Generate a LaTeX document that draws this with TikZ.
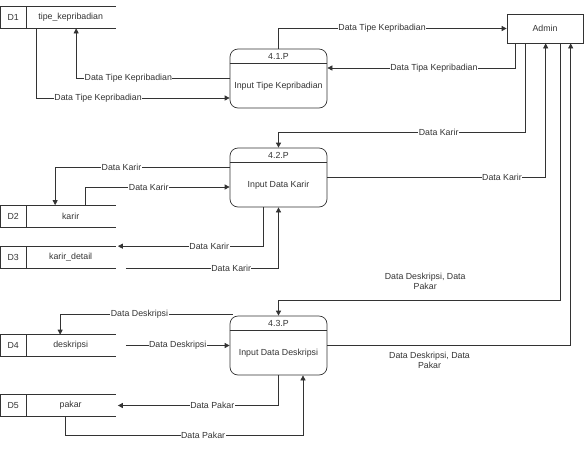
\documentclass[tikz,border=0pt]{standalone}
\usepackage{fontspec}
\setmainfont{Liberation Sans}
\usetikzlibrary{arrows.meta,calc}

\begin{document}
\begin{tikzpicture}[x=1pt,y=-1pt,line width=0.7pt,color=black!80,
        font=\fontsize{8.8}{10.5}\selectfont,
        flow/.style={-{Triangle[length=5pt,width=5pt]}},
        proc/.style={draw, rounded corners=8pt, minimum width=97pt, minimum height=59pt},
        store/.style={minimum width=115pt, minimum height=21pt, inner sep=0pt},
        ext/.style={draw, minimum width=76pt, minimum height=29pt},
        lbl/.style={fill=white, inner sep=0.5pt},
        lbl2/.style={align=center, inner sep=0pt}]

    \useasboundingbox (0,0) rectangle (584,448);

    % external entity
    \node[ext] (admin) at (545,28.5) {Admin};

    % processes
    \node[proc] (p41) at (278.5,78.5) {};
    \node[proc] (p42) at (278.5,177.5) {};
    \node[proc] (p43) at (278.5,345.5) {};
    \foreach \p/\n/\t in {p41/4.1.P/Input Tipe Kepribadian,
                          p42/4.2.P/Input Data Karir,
                          p43/4.3.P/Input Data Deskripsi} {
        \node (\p t) at ($(\p.north)+(0,7.5)$) {\n};
        \node (\p b) at ($(\p.center)+(0,7.5)$) {\t};
        \draw ($(\p.north west)+(0,15)$) -- ($(\p.north east)+(0,15)$);
    }

    % data stores
    \node[store] (d1) at (58,17.5) {};
    \node[store] (d2) at (58,216) {};
    \node[store] (d3) at (58,257) {};
    \node[store] (d4) at (58,345.5) {};
    \node[store] (d5) at (58,405.5) {};
    \foreach \s/\i/\n in {d1/D1/tipe\_kepribadian, d2/D2/karir, d3/D3/karir\_detail,
                          d4/D4/deskripsi, d5/D5/pakar} {
        \draw (\s.north east) -- (\s.north west) -- (\s.south west) -- (\s.south east)
              ($(\s.north west)+(26,0)$) -- ($(\s.south west)+(26,0)$);
        \node (\s i) at ($(\s.west)+(13,0)$) {\i};
        \node (\s n) at ($(\s.west)+(70.5,0)$) {\n};
    }

    % 4.1.P
    \draw[flow] (p41.north) |- node[lbl,pos=0.727] {Data Tipe Kepribadian} (admin.west);
    \draw[flow] ($(admin.south west)+(9,0)$) |- node[lbl,pos=0.717] {Data Tipa Kepribadian} ($(p41.east)+(0,-10.5)$);
    \draw[flow] ($(p41.west)+(0,-0.5)$) -| node[lbl,pos=0.33] {Data Tipe Kepribadian} ($(d1.south west)+(76,0)$);
    \draw[flow] ($(d1.south west)+(36,0)$) |- node[lbl,pos=0.66] {Data Tipe Kepribadian} ($(p41.west)+(0,19.5)$);

    % 4.2.P
    \draw[flow] ($(admin.south west)+(19,0)$) |- node[lbl,pos=0.676] {Data Karir} ($(p42.north)+(0,-15)$) -- (p42.north);
    \draw[flow] (p42.east) -| node[lbl,pos=0.40] {Data Karir} ($(admin.south west)+(39,0)$);
    \draw[flow] ($(p42.west)+(0,-10.5)$) -| node[lbl,pos=0.31] {Data Karir} ($(d2.north west)+(55,0)$);
    \draw[flow] ($(d2.north west)+(85,0)$) |- node[lbl,pos=0.72] {Data Karir} ($(p42.west)+(0,9.5)$);
    \draw[flow] ($(p42.south)+(-15.5,0)$) |- node[lbl,pos=0.685] {Data Karir} ($(d3.north east)+(2,0)$);
    \draw[flow] ($(d3.south east)+(10,0)$) -| node[lbl,pos=0.345] {Data Karir} (p42.south);

    % 4.3.P
    \draw[flow] ($(admin.south west)+(54,0)$) |- node[lbl2,pos=0.74,yshift=19.5pt] {Data Deskripsi, Data\\Pakar} ($(p43.north)+(0,-15)$) -- (p43.north);
    \draw[flow] (p43.east) -| node[lbl2,pos=0.21,yshift=-15pt] {Data Deskripsi, Data\\Pakar} ($(admin.south west)+(64,0)$);
    \draw[flow] ($(p43.north west)+(3,-1)$) -| node[lbl,pos=0.27] {Data Deskripsi} ($(d4.north west)+(60,0)$);
    \draw[flow] ($(d4.east)+(10,0)$) -- node[lbl] {Data Deskripsi} (p43.west);
    \draw[flow] (p43.south) |- node[lbl,pos=0.706] {Data Pakar} ($(d5.east)+(2,0)$);
    \draw[flow] ($(d5.south west)+(65,0)$) |- node[lbl,pos=0.79] {Data Pakar} ($(p43.south)+(24.5,60)$) -- ($(p43.south)+(24.5,0)$);

\end{tikzpicture}
\end{document}
